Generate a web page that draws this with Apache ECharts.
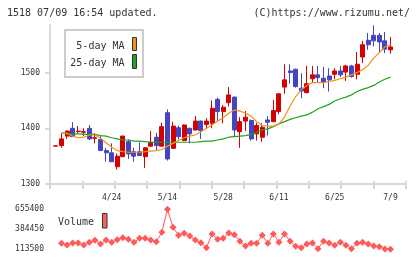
<!DOCTYPE html>
<html>
<head>
<meta charset="utf-8">
<script src="https://cdn.jsdelivr.net/npm/echarts@6.0.0/dist/echarts.min.js"></script>
<style>
html, body { margin: 0; padding: 0; background: #fff; }
#chart { width: 420px; height: 259px; }
</style>
</head>
<body>
<div id="chart"></div>
<script>
// daily candles for 1518, first one (index -1) is 4/10, last is 7/9
var openP  = [1368,1369,1386,1400,1394,1393,1400,1382,1380,1360,1356,1331,1349,1376,1358,1358,1349,1368,1384,1368,1428,
              1364,1401,1378,1400,1397,1413,1407,1409,1452,1430,1446,1456,1394,1413,1414,1390,1384,1415,1412,1430,
              1474,1503,1506,1472,1464,1489,1496,1490,1494,1497,1503,1501,1512,1497,1528,1558,1567,1567,1557,1541];
var closeP = [1368.5,1381,1395,1385,1395,1394,1381,1383,1360,1356,1340,1350,1386,1354,1350,1351,1365,1375,1369,1403,1345,
              1404,1385,1406,1390,1413,1396,1413,1436,1430,1438,1460,1397,1412,1420,1381,1405,1402,1411,1432,1462,
              1487,1500,1475,1467,1480,1496,1491,1483,1487,1503,1496,1512,1493,1515,1550,1550,1557,1555,1542,1546];
var lowP   = [1368,1365,1381,1385,1391,1386,1379,1373,1360,1340,1340,1326,1349,1345,1340,1351,1329,1367,1361,1367,1342,
              1363,1380,1377,1373,1396,1381,1400,1400,1413,1409,1439,1386,1365,1395,1378,1378,1376,1387,1411,1425,
              1462,1480,1473,1454,1463,1483,1483,1472,1466,1488,1492,1485,1491,1488,1517,1541,1547,1535,1535,1534];
var highP  = [1368.5,1391,1396,1411,1404,1400,1406,1391,1387,1365,1373,1355,1387,1380,1365,1375,1366,1395,1392,1410,1434,
              1412,1405,1407,1401,1422,1414,1418,1450,1455,1442,1474,1457,1420,1431,1416,1410,1409,1422,1451,1463,
              1515,1515,1507,1499,1512,1512,1512,1510,1508,1508,1512,1514,1514,1537,1557,1571,1585,1571,1573,1564];

// moving averages and volume, index 0 .. 59
var ma5  = [1392,1391,1386,1383,1384,1388,1388,1382,1374,1366,
            1360,1358,1357,1357,1357,1358,1359,1360,1362,1368,
            1373,1378,1383,1386,1388,1394,1400,1406,1413,1419,
            1427,1433,1431,1427,1422,1412,1405,1404,1404,1408,
            1420,1440,1457,1469,1477,1482,1482,1482,1484,1486,
            1489,1492,1496,1500,1505,1513,1526,1536,1546,1550];
var ma25 = [1392,1390,1390,1390,1389,1389,1389,1387,1386,1383,
            1381,1379,1379,1377,1377,1376,1375,1375,1375,1375,
            1375,1375,1375,1375,1375,1376,1377,1377,1379,1381,
            1384,1385,1386,1387,1389,1393,1397,1399,1403,1408,
            1412,1416,1419,1422,1424,1429,1435,1439,1443,1449,
            1453,1456,1460,1466,1470,1473,1477,1483,1488,1492];
var volume = [194800,172200,199300,199300,172200,208300,235400,185800,239900,208300,
              244500,271600,249000,208300,262500,262500,239900,217400,343800,655400,
              411600,303200,330300,294100,239900,203800,136100,321200,249000,262500,
              334800,312200,221900,158700,194800,194800,303200,194800,321200,208300,
              321200,221900,154100,136100,185800,199300,122500,221900,199300,167700,
              208300,167700,122500,194800,208300,185800,158700,149600,116200,113500];

var dateIdx    = [9, 19, 29, 39, 49, 59];
var dateLabels = ['4/24', '5/14', '5/28', '6/11', '6/25', '7/9'];
var priceTicks = [1300, 1400, 1500];
var volTicks   = [113500, 384450, 655400];

var xMin = -2.06, xMax = 61.73;
var font = 'DejaVu Sans Mono';
var axisGrey = '#d8d8d8';

var candles = [];
for (var i = 0; i < openP.length; i++) {
  candles.push([i - 1, openP[i], closeP[i], lowP[i], highP[i]]);
}
var ma5Data = [], ma25Data = [], volData = [];
for (var j = 0; j < volume.length; j++) {
  ma5Data.push([j, ma5[j]]);
  ma25Data.push([j, ma25[j]]);
  volData.push([j, volume[j]]);
}
// the date axis has 11 even tick steps
var xTicks = [xMin];
for (var k = 1; k < 11; k++) xTicks.push(xMin + (xMax - xMin) * k / 11);
xTicks.push(xMax);

function plain(v) { return String(v); }

var myChart = echarts.init(document.getElementById('chart'));
myChart.setOption({
  animation: false,
  backgroundColor: '#fff',
  textStyle: { fontFamily: font },
  title: [
    { text: '1518 07/09 16:54 updated.', left: 7, top: 7, padding: 0,
      textStyle: { fontSize: 10, fontWeight: 'normal', color: '#333', fontFamily: font, lineHeight: 12 } },
    { text: '(C)https://www.rizumu.net/', right: 10, top: 7, padding: 0,
      textStyle: { fontSize: 10, fontWeight: 'normal', color: '#333', fontFamily: font, lineHeight: 12 } }
  ],
  grid: [
    { left: 50, right: 14.3, top: 25, height: 159 },
    { left: 50, right: 14.3, top: 209.3, height: 40 }
  ],
  xAxis: [
    { type: 'value', gridIndex: 0, min: xMin, max: xMax, position: 'bottom',
      axisLine: { onZero: false, lineStyle: { color: axisGrey, width: 2 } },
      axisTick: { show: true, length: 5, customValues: xTicks, lineStyle: { color: axisGrey, width: 2 } },
      axisLabel: { customValues: dateIdx, margin: 10, fontSize: 8, color: '#333', fontFamily: font,
        formatter: function (v) {
          var n = dateIdx.indexOf(Math.round(v));
          return n >= 0 ? dateLabels[n] : '';
        } },
      splitLine: { show: false } },
    { type: 'value', gridIndex: 0, min: xMin, max: xMax, position: 'bottom',
      axisLine: { show: false, onZero: false },
      axisTick: { show: true, inside: true, length: 3, customValues: xTicks, lineStyle: { color: axisGrey, width: 2 } },
      axisLabel: { show: false },
      splitLine: { show: false } },
    { type: 'value', gridIndex: 1, min: xMin, max: xMax, show: false }
  ],
  yAxis: [
    { type: 'value', gridIndex: 0, min: 1300, max: 1585.5,
      axisLine: { show: true, onZero: false, lineStyle: { color: axisGrey, width: 2 } },
      axisTick: { show: true, length: 5, customValues: priceTicks, lineStyle: { color: axisGrey, width: 2 } },
      axisLabel: { customValues: priceTicks, margin: 10, fontSize: 8, color: '#333', fontFamily: font, formatter: plain },
      splitLine: { show: false } },
    { type: 'value', gridIndex: 1, min: 113500, max: 655400,
      axisLine: { show: false, onZero: false },
      axisTick: { show: false },
      axisLabel: { customValues: volTicks, margin: 6, fontSize: 8, color: '#333', fontFamily: font, formatter: plain },
      splitLine: { show: false } }
  ],
  graphic: [
    { type: 'rect', z: 100, shape: { x: 65, y: 30, width: 78, height: 47 },
      style: { fill: '#fff', stroke: '#cccccc', lineWidth: 2 } },
    { type: 'text', z: 101, x: 124.5, y: 46,
      style: { text: '5-day MA', font: '10px "DejaVu Sans Mono"', fill: '#333', align: 'right', verticalAlign: 'middle' } },
    { type: 'text', z: 101, x: 124.5, y: 63.3,
      style: { text: '25-day MA', font: '10px "DejaVu Sans Mono"', fill: '#333', align: 'right', verticalAlign: 'middle' } },
    { type: 'rect', z: 101, shape: { x: 132.5, y: 37.5, width: 4, height: 13 },
      style: { fill: '#f39019', stroke: '#333', lineWidth: 1 } },
    { type: 'rect', z: 101, shape: { x: 132.5, y: 54.5, width: 4, height: 14 },
      style: { fill: '#1ea51e', stroke: '#333', lineWidth: 1 } },
    { type: 'text', z: 101, x: 58, y: 222.5,
      style: { text: 'Volume', font: '10px "DejaVu Sans Mono"', fill: '#333', align: 'left', verticalAlign: 'middle' } },
    { type: 'rect', z: 101, shape: { x: 102.5, y: 213.5, width: 4.5, height: 14.5 },
      style: { fill: '#ff6060', stroke: '#333', lineWidth: 1 } }
  ],
  series: [
    { name: 'price', type: 'candlestick', xAxisIndex: 0, yAxisIndex: 0,
      encode: { x: 0, y: [1, 2, 3, 4] },
      data: candles, barWidth: 4.5,
      itemStyle: { color: '#d40000', color0: '#4545c2', borderColor: '#d40000', borderColor0: '#4545c2',
                   borderColorDoji: '#d40000', borderWidth: 1 } },
    { name: '25-day MA', type: 'line', xAxisIndex: 0, yAxisIndex: 0, data: ma25Data,
      symbol: 'none', lineStyle: { color: '#1ea51e', width: 1.2 } },
    { name: '5-day MA', type: 'line', xAxisIndex: 0, yAxisIndex: 0, data: ma5Data,
      symbol: 'none', lineStyle: { color: '#f39019', width: 1.2 } },
    { name: 'Volume', type: 'line', xAxisIndex: 2, yAxisIndex: 1, data: volData, clip: false,
      symbol: 'diamond', symbolSize: 7,
      itemStyle: { color: '#ff5a5a' }, lineStyle: { color: '#ff5a5a', width: 1 } }
  ]
});
</script>
</body>
</html>
